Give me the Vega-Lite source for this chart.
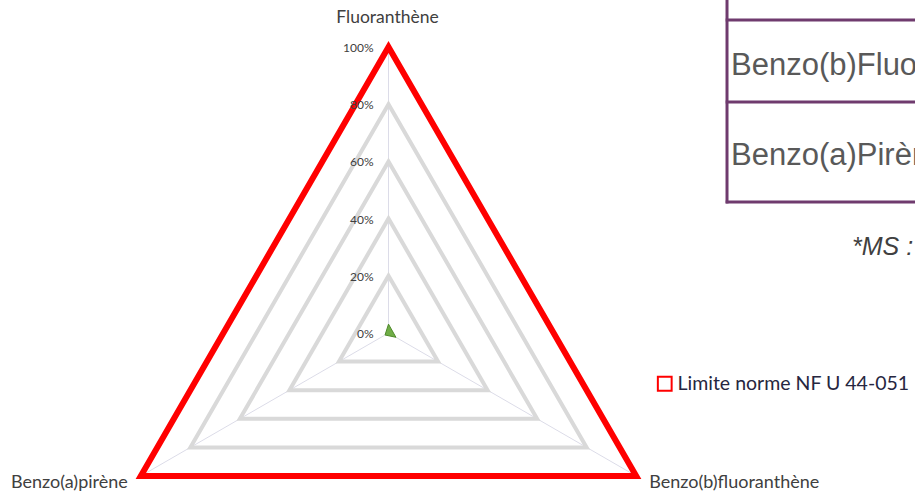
{
  "$schema": "https://vega.github.io/schema/vega-lite/v6.json",
  "autosize": {"type": "fit", "contains": "padding"},
  "width": 915,
  "height": 493,
  "padding": 0,
  "background": "white",
  "config": {"view": {"stroke": null}},
  "datasets": {
    "series": [
      {"serie": "Limite norme NF U 44-051", "axe": "Fluoranthène", "ordre": 0, "valeur": 100},
      {"serie": "Limite norme NF U 44-051", "axe": "Benzo(b)fluoranthène", "ordre": 1, "valeur": 100},
      {"serie": "Limite norme NF U 44-051", "axe": "Benzo(a)pirène", "ordre": 2, "valeur": 100},
      {"serie": "Échantillon", "axe": "Fluoranthène", "ordre": 0, "valeur": 3.1},
      {"serie": "Échantillon", "axe": "Benzo(b)fluoranthène", "ordre": 1, "valeur": 3.0},
      {"serie": "Échantillon", "axe": "Benzo(a)pirène", "ordre": 2, "valeur": 1.4}
    ],
    "grille": [
      {"niveau": 20, "axe": "Fluoranthène", "ordre": 0},
      {"niveau": 20, "axe": "Benzo(b)fluoranthène", "ordre": 1},
      {"niveau": 20, "axe": "Benzo(a)pirène", "ordre": 2},
      {"niveau": 40, "axe": "Fluoranthène", "ordre": 0},
      {"niveau": 40, "axe": "Benzo(b)fluoranthène", "ordre": 1},
      {"niveau": 40, "axe": "Benzo(a)pirène", "ordre": 2},
      {"niveau": 60, "axe": "Fluoranthène", "ordre": 0},
      {"niveau": 60, "axe": "Benzo(b)fluoranthène", "ordre": 1},
      {"niveau": 60, "axe": "Benzo(a)pirène", "ordre": 2},
      {"niveau": 80, "axe": "Fluoranthène", "ordre": 0},
      {"niveau": 80, "axe": "Benzo(b)fluoranthène", "ordre": 1},
      {"niveau": 80, "axe": "Benzo(a)pirène", "ordre": 2},
      {"niveau": 100, "axe": "Fluoranthène", "ordre": 0},
      {"niveau": 100, "axe": "Benzo(b)fluoranthène", "ordre": 1},
      {"niveau": 100, "axe": "Benzo(a)pirène", "ordre": 2}
    ],
    "graduations": [
      {"niveau": 0, "etiquette": "0%"},
      {"niveau": 20, "etiquette": "20%"},
      {"niveau": 40, "etiquette": "40%"},
      {"niveau": 60, "etiquette": "60%"},
      {"niveau": 80, "etiquette": "80%"},
      {"niveau": 100, "etiquette": "100%"}
    ],
    "tableau": [
      {"texte": "Benzo(b)Fluoranthène", "ligne": 1},
      {"texte": "Benzo(a)Pirène", "ligne": 2}
    ],
    "un": [{"id": 1}]
  },
  "layer": [
    {
      "data": {"name": "series"},
      "transform": [
        {"filter": "datum.serie === 'Limite norme NF U 44-051'"},
        {"calculate": "datum.valeur * sin(datum.ordre * 2 * PI / 3)", "as": "px"},
        {"calculate": "datum.valeur * cos(datum.ordre * 2 * PI / 3)", "as": "py"}
      ],
      "mark": {"type": "rule", "stroke": "#dcdce8", "strokeWidth": 1},
      "encoding": {
        "x": {"field": "px", "type": "quantitative", "scale": {"domain": [-135.84, 184.09], "nice": false, "zero": false}, "axis": null},
        "y": {"field": "py", "type": "quantitative", "scale": {"domain": [-55.94, 116.43], "nice": false, "zero": false}, "axis": null},
        "x2": {"datum": 0},
        "y2": {"datum": 0}
      }
    },
    {
      "data": {"name": "grille"},
      "transform": [
        {"calculate": "datum.niveau * sin(datum.ordre * 2 * PI / 3)", "as": "px"},
        {"calculate": "datum.niveau * cos(datum.ordre * 2 * PI / 3)", "as": "py"}
      ],
      "mark": {"type": "line", "interpolate": "linear-closed", "stroke": "#d9d9d9", "strokeWidth": 4, "strokeJoin": "miter"},
      "encoding": {
        "x": {"field": "px", "type": "quantitative"},
        "y": {"field": "py", "type": "quantitative"},
        "detail": {"field": "niveau"},
        "order": {"field": "ordre"}
      }
    },
    {
      "data": {"name": "series"},
      "transform": [
        {"filter": "datum.serie === 'Limite norme NF U 44-051'"},
        {"calculate": "datum.valeur * sin(datum.ordre * 2 * PI / 3)", "as": "px"},
        {"calculate": "datum.valeur * cos(datum.ordre * 2 * PI / 3)", "as": "py"}
      ],
      "mark": {"type": "line", "interpolate": "linear-closed", "strokeWidth": 6, "strokeJoin": "miter"},
      "encoding": {
        "x": {"field": "px", "type": "quantitative"},
        "y": {"field": "py", "type": "quantitative"},
        "order": {"field": "ordre"},
        "color": {
          "field": "serie",
          "type": "nominal",
          "scale": {"domain": ["Limite norme NF U 44-051"], "range": ["#ff0000"]},
          "legend": {
            "orient": "none",
            "legendX": 655,
            "legendY": 374,
            "title": null,
            "padding": 0,
            "symbolType": "square",
            "symbolSize": 190,
            "symbolStrokeWidth": 2,
            "symbolFillColor": "white",
            "labelFont": "Lato",
            "labelFontSize": 19.5,
            "labelColor": "#262640",
            "labelOffset": 3,
            "labelLimit": 0
          }
        }
      }
    },
    {
      "data": {"name": "series"},
      "transform": [
        {"filter": "datum.serie === 'Échantillon'"},
        {"calculate": "datum.valeur * sin(datum.ordre * 2 * PI / 3)", "as": "px"},
        {"calculate": "datum.valeur * cos(datum.ordre * 2 * PI / 3)", "as": "py"}
      ],
      "mark": {"type": "line", "interpolate": "linear-closed", "stroke": "#4f8a2a", "strokeWidth": 1, "fill": "#70ad47", "fillOpacity": 1},
      "encoding": {
        "x": {"field": "px", "type": "quantitative"},
        "y": {"field": "py", "type": "quantitative"},
        "order": {"field": "ordre"}
      }
    },
    {
      "data": {"name": "graduations"},
      "mark": {"type": "text", "align": "right", "baseline": "middle", "dx": -15, "dy": 1, "font": "Lato", "fontSize": 12, "fill": "#404040"},
      "encoding": {
        "x": {"datum": 0},
        "y": {"field": "niveau", "type": "quantitative"},
        "text": {"field": "etiquette"}
      }
    },
    {
      "data": {"name": "series"},
      "transform": [
        {"filter": "datum.serie === 'Limite norme NF U 44-051' && datum.ordre === 0"},
        {"calculate": "datum.valeur * sin(datum.ordre * 2 * PI / 3)", "as": "px"},
        {"calculate": "datum.valeur * cos(datum.ordre * 2 * PI / 3)", "as": "py"}
      ],
      "mark": {"type": "text", "align": "center", "baseline": "middle", "dx": -1, "dy": -29, "font": "Lato", "fontSize": 17.5, "fill": "#404040"},
      "encoding": {
        "x": {"field": "px", "type": "quantitative"},
        "y": {"field": "py", "type": "quantitative"},
        "text": {"field": "axe"}
      }
    },
    {
      "data": {"name": "series"},
      "transform": [
        {"filter": "datum.serie === 'Limite norme NF U 44-051' && datum.ordre === 1"},
        {"calculate": "datum.valeur * sin(datum.ordre * 2 * PI / 3)", "as": "px"},
        {"calculate": "datum.valeur * cos(datum.ordre * 2 * PI / 3)", "as": "py"}
      ],
      "mark": {"type": "text", "align": "left", "baseline": "middle", "dx": 13, "dy": 7, "font": "Lato", "fontSize": 18, "fill": "#404040"},
      "encoding": {
        "x": {"field": "px", "type": "quantitative"},
        "y": {"field": "py", "type": "quantitative"},
        "text": {"field": "axe"}
      }
    },
    {
      "data": {"name": "series"},
      "transform": [
        {"filter": "datum.serie === 'Limite norme NF U 44-051' && datum.ordre === 2"},
        {"calculate": "datum.valeur * sin(datum.ordre * 2 * PI / 3)", "as": "px"},
        {"calculate": "datum.valeur * cos(datum.ordre * 2 * PI / 3)", "as": "py"}
      ],
      "mark": {"type": "text", "align": "right", "baseline": "middle", "dx": -13, "dy": 7, "font": "Lato", "fontSize": 18, "fill": "#404040"},
      "encoding": {
        "x": {"field": "px", "type": "quantitative"},
        "y": {"field": "py", "type": "quantitative"},
        "text": {"field": "axe"}
      }
    },
    {
      "data": {"name": "un"},
      "mark": {"type": "rule", "stroke": "#6f3b6e", "strokeWidth": 3, "clip": true},
      "encoding": {
        "x": {"datum": 118.36},
        "x2": {"datum": 118.36},
        "y": {"datum": 120},
        "y2": {"datum": 45.3}
      }
    },
    {
      "data": {"name": "un"},
      "mark": {"type": "rule", "stroke": "#6f3b6e", "strokeWidth": 3, "clip": true},
      "encoding": {
        "x": {"datum": 117.9},
        "x2": {"datum": 200},
        "y": {"datum": 109.44}
      }
    },
    {
      "data": {"name": "un"},
      "mark": {"type": "rule", "stroke": "#6f3b6e", "strokeWidth": 3, "clip": true},
      "encoding": {
        "x": {"datum": 117.9},
        "x2": {"datum": 200},
        "y": {"datum": 80.77}
      }
    },
    {
      "data": {"name": "un"},
      "mark": {"type": "rule", "stroke": "#6f3b6e", "strokeWidth": 3, "clip": true},
      "encoding": {
        "x": {"datum": 117.9},
        "x2": {"datum": 200},
        "y": {"datum": 45.8}
      }
    },
    {
      "data": {"name": "tableau"},
      "transform": [{"filter": "datum.ligne === 1"}],
      "mark": {"type": "text", "align": "left", "baseline": "alphabetic", "font": "Liberation Sans", "fontSize": 31, "fill": "#595959", "clip": true},
      "encoding": {
        "x": {"datum": 119.76},
        "y": {"datum": 90.21},
        "text": {"field": "texte"}
      }
    },
    {
      "data": {"name": "tableau"},
      "transform": [{"filter": "datum.ligne === 2"}],
      "mark": {"type": "text", "align": "left", "baseline": "alphabetic", "font": "Liberation Sans", "fontSize": 31, "fill": "#595959", "clip": true},
      "encoding": {
        "x": {"datum": 119.76},
        "y": {"datum": 58.74},
        "text": {"field": "texte"}
      }
    },
    {
      "data": {"name": "un"},
      "mark": {"type": "text", "align": "left", "baseline": "alphabetic", "font": "Liberation Sans", "fontSize": 25, "fontStyle": "italic", "fill": "#404040", "clip": true},
      "encoding": {
        "x": {"datum": 162.06},
        "y": {"datum": 27.27},
        "text": {"value": "*MS : matière sèche"}
      }
    }
  ]
}
